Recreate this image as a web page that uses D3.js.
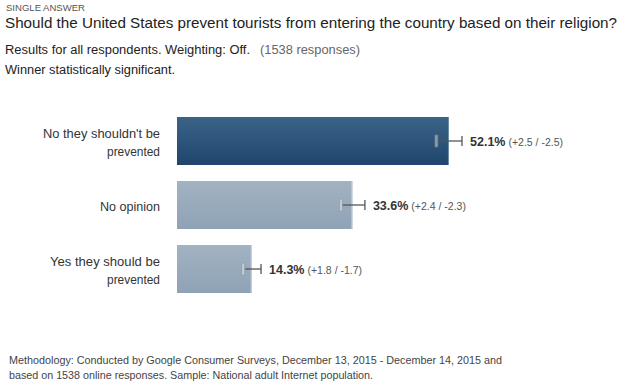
<!DOCTYPE html>
<html><head><meta charset="utf-8">
<script src="https://cdn.jsdelivr.net/npm/d3@7"></script>
<style>body{margin:0;background:#fff;}svg{display:block;font-family:Arial,"Liberation Sans",sans-serif;}</style>
</head><body>
<svg id="c" width="620" height="381"></svg>
<script>
const categories = [["No they shouldn't be","prevented"],["No opinion"],["Yes they should be","prevented"]];
const values = [52.1, 33.6, 14.3];
const errPlus = [2.5, 2.4, 1.8];
const errMinus = [2.5, 2.3, 1.7];
const winner = [true, false, false];

const svg = d3.select("#c");
const defs = svg.append("defs");
const g1 = defs.append("linearGradient").attr("id","gDark").attr("x1",0).attr("y1",0).attr("x2",0).attr("y2",1);
g1.append("stop").attr("offset","0%").attr("stop-color","#3b6388");
g1.append("stop").attr("offset","100%").attr("stop-color","#1f456c");
const g2 = defs.append("linearGradient").attr("id","gLight").attr("x1",0).attr("y1",0).attr("x2",0).attr("y2",1);
g2.append("stop").attr("offset","0%").attr("stop-color","#a2b2c2");
g2.append("stop").attr("offset","100%").attr("stop-color","#8fa2b6");

function fit(sel, w){ sel.attr("textLength", w).attr("lengthAdjust","spacingAndGlyphs"); return sel; }

// header
fit(svg.append("text").attr("x",6).attr("y",11).attr("font-size",9).attr("fill","#555").text("SINGLE ANSWER"),79);
fit(svg.append("text").attr("x",5).attr("y",28).attr("font-size",15).attr("fill","#222").text("Should the United States prevent tourists from entering the country based on their religion?"),612);
fit(svg.append("text").attr("x",5).attr("y",54).attr("font-size",12).attr("fill","#222").text("Results for all respondents. Weighting: Off."),245);
fit(svg.append("text").attr("x",260).attr("y",54).attr("font-size",12).attr("fill","#666").text("(1538 responses)"),100);
fit(svg.append("text").attr("x",5).attr("y",74).attr("font-size",12).attr("fill","#222").text("Winner statistically significant."),170);

const x = d3.scaleLinear().domain([0,100]).range([177,699]);
const y = d3.scaleBand().domain(d3.range(values.length)).range([109,301]).paddingInner(0.25).paddingOuter(0.125);

const rows = svg.append("g").selectAll("g").data(values).join("g");
rows.append("rect").attr("x",x(0)).attr("y",(d,i)=>y(i)).attr("width",d=>x(d)-x(0)).attr("height",y.bandwidth())
  .attr("fill",(d,i)=>winner[i]?"url(#gDark)":"url(#gLight)");
rows.append("rect").attr("x",d=>x(d)-1).attr("y",(d,i)=>y(i)).attr("width",1).attr("height",y.bandwidth())
  .attr("fill",(d,i)=>winner[i]?"#6f8fae":"#c4d0dc");

// category labels
const labelW = {"No they shouldn't be":117, "prevented":53, "No opinion":60, "Yes they should be":110};
rows.each(function(d,i){
  const lines = categories[i];
  const cy = y(i)+y.bandwidth()/2;
  const lh = 18;
  lines.forEach((l,k)=>{
    fit(d3.select(this).append("text").attr("x",160).attr("text-anchor","end").attr("font-size",12.5).attr("fill","#333")
      .attr("y",cy + (k-(lines.length-1)/2)*lh + 6).text(l), labelW[l]);
  });
});

// error bars
rows.each(function(d,i){
  const cy = y(i)+y.bandwidth()/2;
  const lo = x(d-errMinus[i]), hi = x(d+errPlus[i]);
  const s = d3.select(this);
  s.append("line").attr("x1",lo).attr("x2",hi).attr("y1",cy).attr("y2",cy).attr("stroke","#555").attr("stroke-width",1.3);
  s.append("rect").attr("x",lo-1).attr("y",cy-6).attr("width",3).attr("height",12)
    .attr("fill",winner[i]?"#8c9bab":"#c2ccd6").attr("stroke",winner[i]?"#6d7b89":"#8a95a0").attr("stroke-width",0.6);
  s.append("line").attr("x1",hi).attr("x2",hi).attr("y1",cy-5).attr("y2",cy+5).attr("stroke","#555").attr("stroke-width",1.3);
  const t = s.append("text").attr("x",hi+8).attr("y",cy+5);
  t.append("tspan").attr("font-size",12.5).attr("font-weight","bold").attr("fill","#333").text(d.toFixed(1)+"%");
  t.append("tspan").attr("dx",3).attr("font-size",10.5).attr("fill","#555").text(`(+${errPlus[i].toFixed(1)} / -${errMinus[i].toFixed(1)})`);
});

// footer
fit(svg.append("text").attr("x",9).attr("y",364).attr("font-size",10.5).attr("fill","#444").text("Methodology: Conducted by Google Consumer Surveys, December 13, 2015 - December 14, 2015 and"),493);
fit(svg.append("text").attr("x",9).attr("y",379).attr("font-size",10.5).attr("fill","#444").text("based on 1538 online responses. Sample: National adult Internet population."),364);
</script>
</body></html>
